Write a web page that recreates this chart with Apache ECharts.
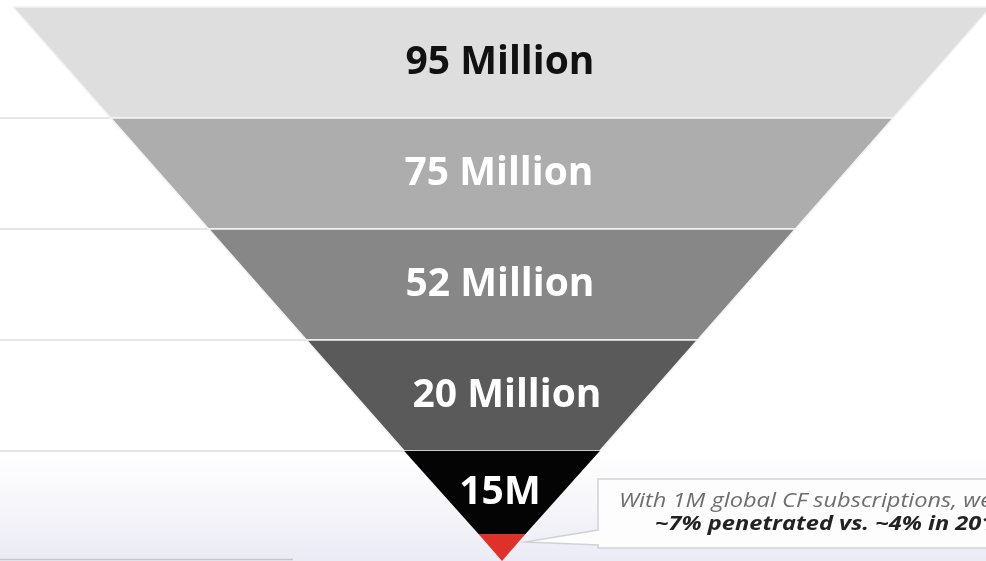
<!DOCTYPE html>
<html>
<head>
<meta charset="utf-8">
<script src="https://cdn.jsdelivr.net/npm/echarts@6/dist/echarts.min.js"></script>
<style>
  html, body { margin: 0; padding: 0; background: #fff; }
  #chart { width: 986px; height: 561px; }
</style>
</head>
<body>
<div id="chart"></div>
<script>
// funnel stages, top to bottom (last one is the red tip, no label)
var stageLabels = ['95 Million', '75 Million', '52 Million', '20 Million', '15M', ''];
// relative width of each stage's top edge (% of the funnel's top width)
var stageWidths = [100, 80, 60, 40, 20, 4.8];
var stageColors = ['#dedede', '#adadad', '#878787', '#5a5a5a', '#040404', '#de3129'];
var labelColors = ['#111', '#fff', '#fff', '#fff', '#fff', '#fff'];
var labelShift = [-2, -3, -2, 5, -2, 0];
var calloutLines = ['With 1M global CF subscriptions, we', '~7% penetrated vs. ~4% in 201'];

// layout of the funnel, pixels
var FUNNEL_TOP = 7, FUNNEL_H = 554, FUNNEL_LEFT = 13, FUNNEL_W = 978;
var stageHeights = [111, 111, 111, 111, 83, 27];

var chart = echarts.init(document.getElementById('chart'), null, { renderer: 'canvas' });

var funnelData = stageLabels.map(function (name, i) {
    return {
        name: name || 'tip',
        value: stageWidths[i],
        itemStyle: {
            color: stageColors[i],
            height: stageHeights[i],
            borderColor: i < 4 ? '#f3f3f3' : stageColors[i],
            borderWidth: i < 4 ? 1.5 : 0
        },
        label: {
            show: !!name,
            color: labelColors[i],
            padding: [0, 0, 0, labelShift[i] * 2]
        }
    };
});

// faint rule lines on the left, at the stage boundaries
var ruleLines = [];
var yAcc = FUNNEL_TOP;
for (var i = 0; i < 4; i++) {
    yAcc += stageHeights[i];
    ruleLines.push({
        type: 'line', z: -1,
        shape: { x1: 0, y1: yAcc, x2: 480, y2: yAcc },
        style: { stroke: '#dedede', lineWidth: 1.5 }
    });
}
ruleLines.push({
    type: 'line', z: -1,
    shape: { x1: 0, y1: 559.5, x2: 293, y2: 559.5 },
    style: { stroke: '#c4c4cc', lineWidth: 1.5 }
});

var option = {
    backgroundColor: '#ffffff',
    animation: false,
    graphic: [
        {
            type: 'rect', z: -2,
            shape: { x: 0, y: 455, width: 986, height: 106 },
            style: {
                fill: {
                    type: 'linear', x: 0, y: 0, x2: 0, y2: 1,
                    colorStops: [{ offset: 0, color: '#ffffff' }, { offset: 1, color: '#ebebf5' }]
                }
            }
        }
    ].concat(ruleLines).concat([
        {
            type: 'polygon', z: 10,
            shape: {
                points: [[598, 479], [1000, 479], [1000, 548], [598, 548], [598, 545], [525, 542], [598, 530]]
            },
            style: { fill: '#fdfdfe', stroke: '#d2d2d6', lineWidth: 1.5 }
        },
        {
            type: 'text', z: 11, x: 619, y: 501, scaleX: 1.18,
            style: {
                text: calloutLines[0],
                font: 'italic 20px "Open Sans", Roboto, sans-serif',
                fill: '#6e6e6e',
                verticalAlign: 'middle'
            }
        },
        {
            type: 'text', z: 11, x: 655, y: 524, scaleX: 1.18,
            style: {
                text: calloutLines[1],
                font: 'italic bold 20px "Open Sans", Roboto, sans-serif',
                fill: '#222222',
                verticalAlign: 'middle'
            }
        }
    ]),
    series: [
        {
            type: 'funnel',
            sort: 'none',
            left: FUNNEL_LEFT,
            top: FUNNEL_TOP,
            width: FUNNEL_W,
            height: FUNNEL_H,
            min: 0,
            max: 100,
            minSize: '0%',
            maxSize: '100%',
            gap: 0,
            silent: true,
            label: {
                show: true,
                position: 'inside',
                fontFamily: '"Open Sans", Roboto, sans-serif',
                fontWeight: 'bold',
                fontSize: 39,
                formatter: function (p) { return stageLabels[p.dataIndex]; }
            },
            labelLine: { show: false },
            data: funnelData
        }
    ]
};

chart.setOption(option);
window.addEventListener('resize', function () { chart.resize(); });
</script>
</body>
</html>
